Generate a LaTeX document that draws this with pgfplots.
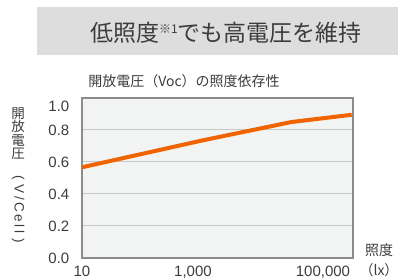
\documentclass[border=0pt]{standalone}
\usepackage{fontspec}
\setmainfont{Liberation Sans}
\newfontfamily\cjk{Noto Sans CJK JP}
\newfontfamily\lat{Liberation Sans}
\usepackage{pgfplots}
\pgfplotsset{compat=1.18}
\definecolor{framec}{HTML}{8C8C8C}
\definecolor{plotbg}{HTML}{F2F3F3}
\definecolor{gridc}{HTML}{C8C8C8}
\definecolor{orangec}{HTML}{F06400}
\definecolor{titlebg}{HTML}{DDDDDD}
\definecolor{txt}{HTML}{3C3C3C}
\begin{document}
\begin{tikzpicture}
\useasboundingbox (-82bp,-21bp) rectangle (316bp,258bp);
\fill[titlebg] (-45bp,203bp) rectangle (316bp,251bp);
\node[text=txt, inner sep=0pt, font=\cjk\fontsize{23bp}{23bp}\selectfont] at (144bp,225.5bp)
  {低照度\raisebox{8bp}{\fontsize{12bp}{12bp}\selectfont ※1}でも高電圧を維持};
\node[text=txt, inner sep=0pt, font=\cjk\fontsize{14bp}{14bp}\selectfont] at (102bp,177.3bp)
  {開放電圧（Voc）の照度依存性};
\begin{axis}[
  at={(0,0)}, anchor=south west,
  scale only axis, width=271bp, height=160bp,
  xmode=log, xmin=10, xmax=315000,
  ymin=0, ymax=1,
  axis background/.style={fill=plotbg},
  axis line style={draw=framec, line width=2.5bp},
  major tick length=0pt, xminorticks=false, yminorticks=false,
  xtick={10,100000}, xticklabels={10,{100{,}000}},
  extra x ticks={1000}, extra x tick labels={{1{,}000}},
  extra x tick style={xticklabel style={xshift=-9.5bp}},
  ytick={0,0.2,0.4,0.6,0.8}, yticklabels={0.0,0.2,0.4,0.6,0.8},
  extra y ticks={0.95}, extra y tick labels={1.0},
  extra y tick style={grid=none},
  ymajorgrids, xmajorgrids=false,
  major grid style={draw=gridc, line width=1bp},
  tick label style={font=\fontsize{15bp}{15bp}\selectfont, text=txt},
  xticklabel style={anchor=north, inner sep=0pt, yshift=-8bp},
  yticklabel style={anchor=east, inner sep=0pt, xshift=-12.5bp},
  ylabel={開\\放\\電\\圧\\[3bp]\rotatebox{-90}{\lat(\hspace{5bp}V\hspace{2.5bp}/\hspace{2.5bp}C\hspace{2.5bp}e\hspace{2.5bp}l\hspace{2.5bp}l\hspace{5bp})}},
  ylabel style={at={(axis description cs:-0.236,0.519)}, anchor=center, rotate=-90, align=center, text=txt,
    font=\cjk\fontsize{13.5bp}{13.5bp}\selectfont, inner sep=0pt},
  xlabel={照度\\（lx）},
  xlabel style={at={(axis description cs:1.096,-0.0125)}, anchor=center, align=center, text=txt,
    font=\cjk\fontsize{14bp}{20bp}\selectfont, inner sep=0pt},
  clip=true,
]
\addplot[draw=orangec, line width=4bp, line join=round] coordinates {
  (10,0.567) (1000,0.735) (30000,0.850) (300000,0.895)
};
\end{axis}
\end{tikzpicture}
\end{document}
